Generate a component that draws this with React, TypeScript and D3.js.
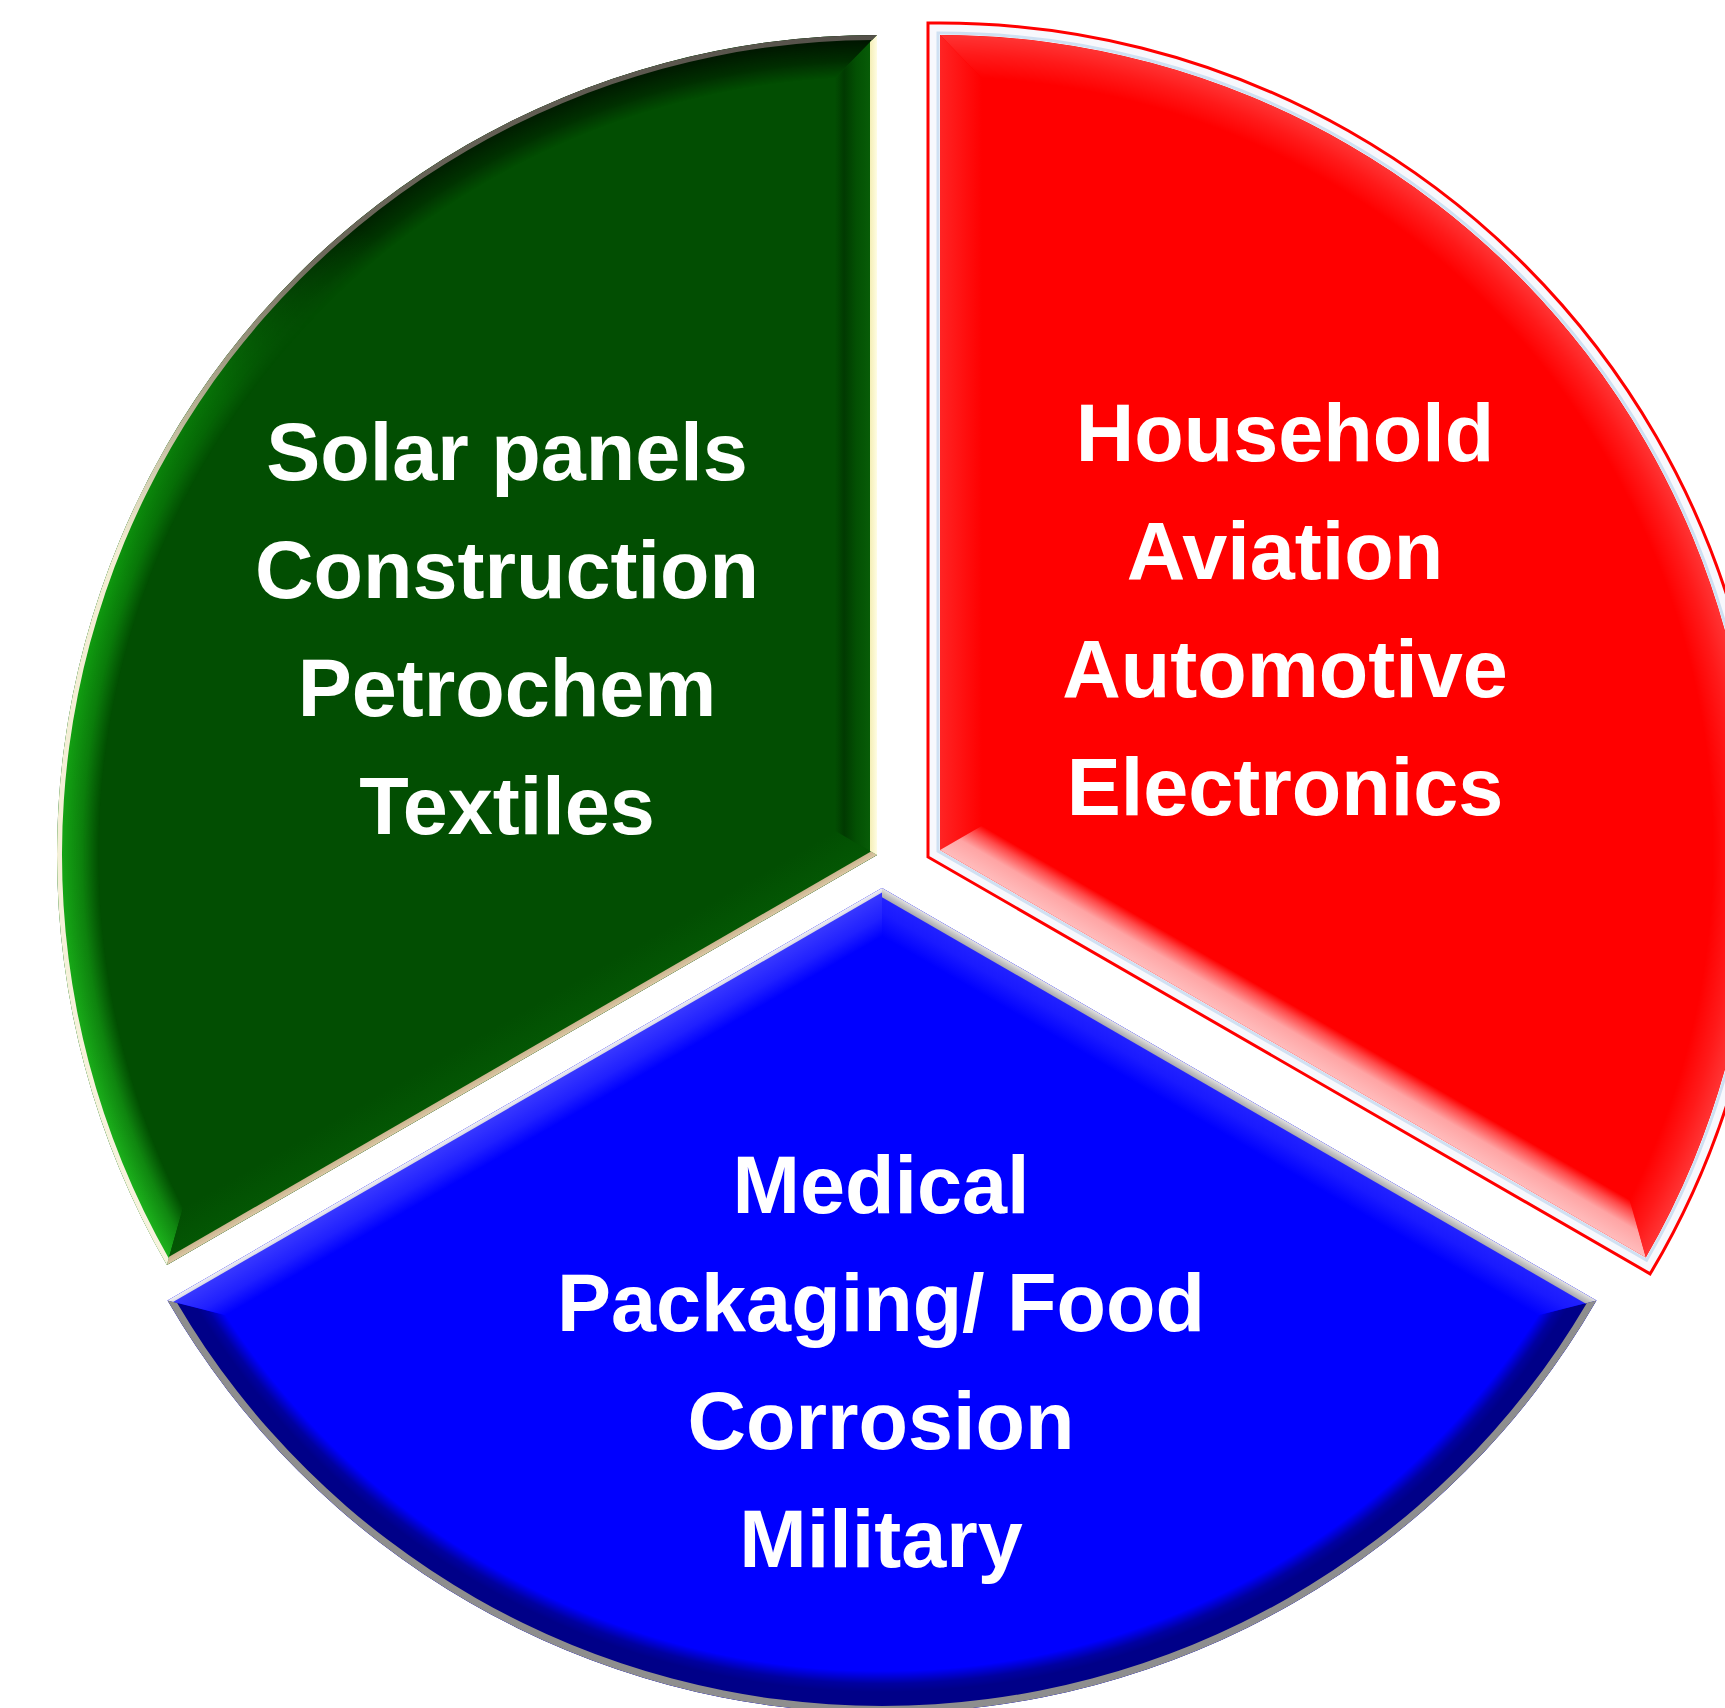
import React from 'react';
import * as d3 from 'd3';

const W = 1725;
const H = 1708;

// ---------- data ----------
const SECTOR_KEYS = ['green', 'red', 'blue'];
const SECTOR_SHARES = [1, 1, 1];
const GREEN_ITEMS = ['Solar panels', 'Construction', 'Petrochem', 'Textiles'];
const RED_ITEMS = ['Household', 'Aviation', 'Automotive', 'Electronics'];
const BLUE_ITEMS = ['Medical', 'Packaging/ Food', 'Corrosion', 'Military'];
const SECTOR_ITEMS = [GREEN_ITEMS, RED_ITEMS, BLUE_ITEMS];

// ---------- style ----------
type Stops = [number, string][];
interface SliceStyle {
  at: [number, number];
  R: number;
  fill: string;
  arcStops: Stops;
  arcFall: [number, number][]; // [fraction of bevel from inner, opacity]
  edge0: Stops;
  edge1: Stops;
  strip0?: { w: number; stops: Stops };
  strip1?: { w: number; stops: Stops };
  arcStrip?: { w: number; stops: Stops };
  outline?: boolean;
  label: [number, number];
}

const STYLE: Record<string, SliceStyle> = {
  green: {
    at: [877, 855],
    R: 820,
    fill: '#024e02',
    arcStops: [[0, '#001600'], [0.3, '#002400'], [0.45, '#077007'], [0.6, '#0e960e'], [1, '#1cb01c']],
    arcFall: [[0, 0], [0.4, 0.6], [0.85, 1], [1, 1]],
    edge0: [[0, '#045804'], [1, '#024e02']],
    edge1: [[0, '#0a620a'], [0.5, '#035003'], [0.78, '#013a01'], [1, '#024e02']],
    strip0: { w: 6, stops: [[0, '#dcc8a6'], [1, '#cbb48e']] },
    strip1: { w: 7, stops: [[0, '#fffde2'], [1, '#f4eeb6']] },
    arcStrip: { w: 5, stops: [[0, '#55514a'], [0.33, '#6e695c'], [0.47, '#b9b296'], [0.58, '#f2ecd2'], [1, '#f7f3de']] },
    label: [-370, -227],
  },
  red: {
    at: [940, 850],
    R: 815,
    fill: '#ff0000',
    arcStops: [[0, '#ff3434'], [1, '#ff3434']],
    arcFall: [[0, 0], [0.55, 0.5], [1, 1]],
    edge0: [[0, '#ff2424'], [1, '#ff0000']],
    edge1: [[0, '#ffbcbc'], [0.45, '#ffa4a4'], [0.78, '#ff4a4a'], [1, '#ff0000']],
    outline: true,
    label: [345, -241],
  },
  blue: {
    at: [882, 888],
    R: 825,
    fill: '#0000ff',
    arcStops: [[0, '#000088'], [1, '#000088']],
    arcFall: [[0, 0], [0.3, 0.8], [0.5, 1], [1, 1]],
    edge0: [[0, '#2626ff'], [0.5, '#1a1aff'], [1, '#0000ff']],
    edge1: [[0, '#3c3cff'], [0.6, '#2020ff'], [1, '#0000ff']],
    strip0: { w: 8, stops: [[0, '#e4e4e4'], [0.5, '#c4c4c4'], [1, '#a8a8b0']] },
    strip1: { w: 4, stops: [[0, '#f0f0f4'], [1, '#d8d8e8']] },
    arcStrip: { w: 7, stops: [[0, '#8e8e8e'], [1, '#8e8e8e']] },
    label: [-1, 473],
  },
};

const BEVEL = 42;
const FONT_SIZE = 81;
const LINE_H = 118;

// ---------- geometry helpers ----------
type Pt = [number, number];
const dir = (a: number): Pt => [Math.sin(a), -Math.cos(a)];
const add = (p: Pt, q: Pt): Pt => [p[0] + q[0], p[1] + q[1]];
const mul = (p: Pt, k: number): Pt => [p[0] * k, p[1] * k];
const ang = (p: Pt) => Math.atan2(p[1], p[0]);

interface Geom { apex: Pt; c0: Pt; c1: Pt; r: number; }

function geom(a0: number, a1: number, R: number, b: number): Geom {
  const half = (a1 - a0) / 2;
  const mid = (a0 + a1) / 2;
  const apex = mul(dir(mid), b / Math.sin(half));
  const r = R - b;
  const t = Math.sqrt(r * r - b * b);
  const c0 = add(mul(dir(a0), t), mul(dir(a0 + Math.PI / 2), b));
  const c1 = add(mul(dir(a1), t), mul(dir(a1 - Math.PI / 2), b));
  return { apex, c0, c1, r };
}

function slicePath(g: Geom) {
  const p = d3.path();
  p.moveTo(g.apex[0], g.apex[1]);
  p.lineTo(g.c0[0], g.c0[1]);
  p.arc(0, 0, g.r, ang(g.c0), ang(g.c1), false);
  p.closePath();
  return p.toString();
}

function arcBand(o: Geom, i: Geom) {
  const p = d3.path();
  p.moveTo(o.c0[0], o.c0[1]);
  p.arc(0, 0, o.r, ang(o.c0), ang(o.c1), false);
  p.lineTo(i.c1[0], i.c1[1]);
  p.arc(0, 0, i.r, ang(i.c1), ang(i.c0), true);
  p.closePath();
  return p.toString();
}

function edgeBand(o: Geom, i: Geom, which: 0 | 1) {
  const co = which === 0 ? o.c0 : o.c1;
  const ci = which === 0 ? i.c0 : i.c1;
  const p = d3.path();
  p.moveTo(o.apex[0], o.apex[1]);
  p.lineTo(co[0], co[1]);
  p.lineTo(ci[0], ci[1]);
  p.lineTo(i.apex[0], i.apex[1]);
  p.closePath();
  return p.toString();
}

const stopsEl = (stops: Stops) =>
  stops.map(([o, c], k) => <stop key={k} offset={o} stopColor={c} />);

function Slice({ d, idx }: { d: d3.PieArcDatum<number>; idx: number }) {
  const key = SECTOR_KEYS[idx];
  const s = STYLE[key];
  const a0 = d.startAngle;
  const a1 = d.endAngle;
  const R = s.R;
  const g0 = geom(a0, a1, R, 0);
  const gB = geom(a0, a1, R, BEVEL);
  const n0 = dir(a0 + Math.PI / 2);
  const n1 = dir(a1 - Math.PI / 2);
  const arcGen = d3.arc<any>().innerRadius(0).outerRadius(R);
  const base = arcGen({ startAngle: a0, endAngle: a1 }) as string;
  const along0 = mul(dir(a1), R);
  const along1 = mul(dir(a0), R);
  const bandD = arcBand(g0, gB);
  const innerFrac = (R - BEVEL) / R;

  const items = SECTOR_ITEMS[idx];
  const cap = 0.716 * FONT_SIZE;
  const [lx, ly] = s.label;

  const strip = (which: 0 | 1, w: number, stops: Stops) => {
    const gi = geom(a0, a1, R, w);
    const n = which === 0 ? n0 : n1;
    const id = `st${which}-${key}`;
    return (
      <g>
        <defs>
          <linearGradient id={id} gradientUnits="userSpaceOnUse" x1={0} y1={0} x2={n[0] * w} y2={n[1] * w}>
            {stopsEl(stops)}
          </linearGradient>
        </defs>
        <path d={edgeBand(g0, gi, which)} fill={`url(#${id})`} />
      </g>
    );
  };

  return (
    <g transform={`translate(${s.at[0]},${s.at[1]})`}>
      <defs>
        <linearGradient id={`e0-${key}`} gradientUnits="userSpaceOnUse" x1={0} y1={0} x2={n0[0] * BEVEL} y2={n0[1] * BEVEL}>
          {stopsEl(s.edge0)}
        </linearGradient>
        <linearGradient id={`e1-${key}`} gradientUnits="userSpaceOnUse" x1={0} y1={0} x2={n1[0] * BEVEL} y2={n1[1] * BEVEL}>
          {stopsEl(s.edge1)}
        </linearGradient>
        <linearGradient id={`ac-${key}`} gradientUnits="userSpaceOnUse" x1={along0[0]} y1={along0[1]} x2={along1[0]} y2={along1[1]}>
          {stopsEl(s.arcStops)}
        </linearGradient>
        <radialGradient id={`af-${key}`} gradientUnits="userSpaceOnUse" cx={0} cy={0} r={R}>
          {s.arcFall.map(([f, o], k) => {
            const v = Math.round(o * 255);
            return <stop key={k} offset={innerFrac + (1 - innerFrac) * f} stopColor={`rgb(${v},${v},${v})`} />;
          })}
        </radialGradient>
        <mask id={`m-${key}`} maskUnits="userSpaceOnUse" x={-R - 60} y={-R - 60} width={2 * R + 120} height={2 * R + 120}>
          <path d={bandD} fill={`url(#af-${key})`} />
        </mask>
      </defs>

      {s.outline && (
        <g>
          <path d={slicePath(geom(a0, a1, R, -12))} fill="#f7f8fd" stroke="#ff0000" strokeWidth={3} />
          <path d={slicePath(geom(a0, a1, R, -2))} fill="none" stroke="#cfe0f2" strokeWidth={3} />
        </g>
      )}

      <path d={base} fill={s.fill} />
      <path d={edgeBand(g0, gB, 0)} fill={`url(#e0-${key})`} />
      <path d={edgeBand(g0, gB, 1)} fill={`url(#e1-${key})`} />
      <path d={bandD} fill={`url(#ac-${key})`} mask={`url(#m-${key})`} />

      {s.strip0 && strip(0, s.strip0.w, s.strip0.stops)}
      {s.strip1 && strip(1, s.strip1.w, s.strip1.stops)}
      {s.arcStrip && (
        <g>
          <defs>
            <linearGradient id={`as-${key}`} gradientUnits="userSpaceOnUse" x1={along0[0]} y1={along0[1]} x2={along1[0]} y2={along1[1]}>
              {stopsEl(s.arcStrip.stops)}
            </linearGradient>
          </defs>
          <path d={arcBand(g0, geom(a0, a1, R, s.arcStrip.w))} fill={`url(#as-${key})`} />
        </g>
      )}

      <g
        fill="#ffffff"
        fontFamily="'Liberation Sans', Arial, Helvetica, sans-serif"
        fontWeight="bold"
        fontSize={FONT_SIZE}
        textAnchor="middle"
      >
        {items.map((t, k) => (
          <text key={t} x={lx} y={ly + (k - (items.length - 1) / 2) * LINE_H + cap / 2}>
            {t}
          </text>
        ))}
      </g>
    </g>
  );
}

export default function App() {
  const pie = d3
    .pie<number>()
    .sort(null)
    .startAngle(-2 * Math.PI / 3)
    .endAngle(4 * Math.PI / 3);
  const arcs = pie(SECTOR_SHARES);
  return (
    <svg
      width={W}
      height={H}
      viewBox={`0 0 ${W} ${H}`}
      style={{ position: 'absolute', left: 0, top: 0, background: '#ffffff' }}
    >
      <rect width={W} height={H} fill="#ffffff" />
      {arcs.map((d, i) => (
        <Slice key={SECTOR_KEYS[i]} d={d} idx={i} />
      ))}
    </svg>
  );
}
